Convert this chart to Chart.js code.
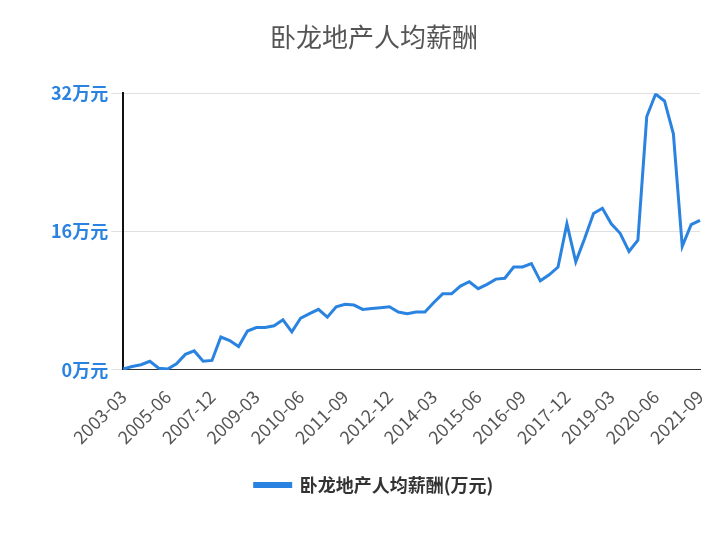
<!DOCTYPE html>
<html><head><meta charset="utf-8">
<script src="https://cdn.jsdelivr.net/npm/chart.js@4/dist/chart.umd.min.js"></script>
<style>html,body{margin:0;background:#fff}#w{width:724px;height:540px}</style>
</head><body><div id="w"><canvas id="c"></canvas></div>
<script>
const categories = ["2003-03","2003-06","2003-12","2004-06","2004-12","2005-06","2005-12","2006-06","2006-12","2007-06","2007-12",
"2008-03","2008-06","2008-09","2008-12","2009-03","2009-06","2009-09","2009-12","2010-03","2010-06","2010-09","2010-12","2011-03","2011-06","2011-09","2011-12","2012-03","2012-06","2012-09","2012-12","2013-03","2013-06","2013-09","2013-12","2014-03","2014-06","2014-09","2014-12","2015-03","2015-06","2015-09","2015-12","2016-03","2016-06","2016-09","2016-12","2017-03","2017-06","2017-09","2017-12","2018-03","2018-06","2018-09","2018-12","2019-03","2019-06","2019-09","2019-12","2020-03","2020-06","2020-09","2020-12","2021-03","2021-06","2021-09"];
const salary = [0.1,0.4,0.6,1.0,0.2,0.1,0.7,1.8,2.2,1.0,1.1,3.8,3.4,2.7,4.5,4.9,4.9,5.1,5.8,4.4,6.0,6.5,7.0,6.1,7.3,7.6,7.5,7.0,7.1,7.2,7.3,6.7,6.5,6.7,6.7,7.8,8.8,8.8,9.7,10.2,9.4,9.9,10.5,10.6,11.9,11.9,12.3,10.3,11.0,11.9,16.9,12.5,15.2,18.1,18.7,16.9,15.8,13.7,15.0,29.3,31.9,31.1,27.3,14.3,16.8,17.3];
const yTicks = [0,16,32];
const seriesName = "卧龙地产人均薪酬(万元)";
const titleText = "卧龙地产人均薪酬";
const FONT = "'Noto Sans CJK SC','Noto Sans',sans-serif";
new Chart(document.getElementById('c'), {
  type:'line',
  data:{labels:categories,datasets:[{label:seriesName,data:salary,borderColor:'#2a83e0',backgroundColor:'#2a83e0',borderWidth:3,pointRadius:0,tension:0}]},
  options:{responsive:true,maintainAspectRatio:false,animation:false,
    layout:{padding:{left:48,right:24,top:12,bottom:36}},
    plugins:{
      title:{display:true,text:titleText,color:'#555',font:{family:FONT,size:26,weight:'normal'},padding:{top:10,bottom:40}},
      legend:{position:'bottom',labels:{boxWidth:36,boxHeight:3,color:'#333',font:{family:FONT,size:18,weight:'bold'},padding:20}}
    },
    scales:{
      x:{grid:{display:false},border:{color:'#333'},
        ticks:{color:'#555',font:{family:FONT,size:18},maxRotation:45,minRotation:45,autoSkip:false,padding:8,
          callback:function(v,i){return i%5===0?categories[i]:'';}}},
      y:{min:0,max:32,afterBuildTicks:a=>{a.ticks=yTicks.map(v=>({value:v}));},
        grid:{color:'#e0e0e0',tickLength:12},border:{color:'#111',width:2},
        ticks:{color:'#2a83e0',font:{family:FONT,size:18,weight:'bold'},callback:v=>v+'万元'}}
    }
  }
});
</script></body></html>
